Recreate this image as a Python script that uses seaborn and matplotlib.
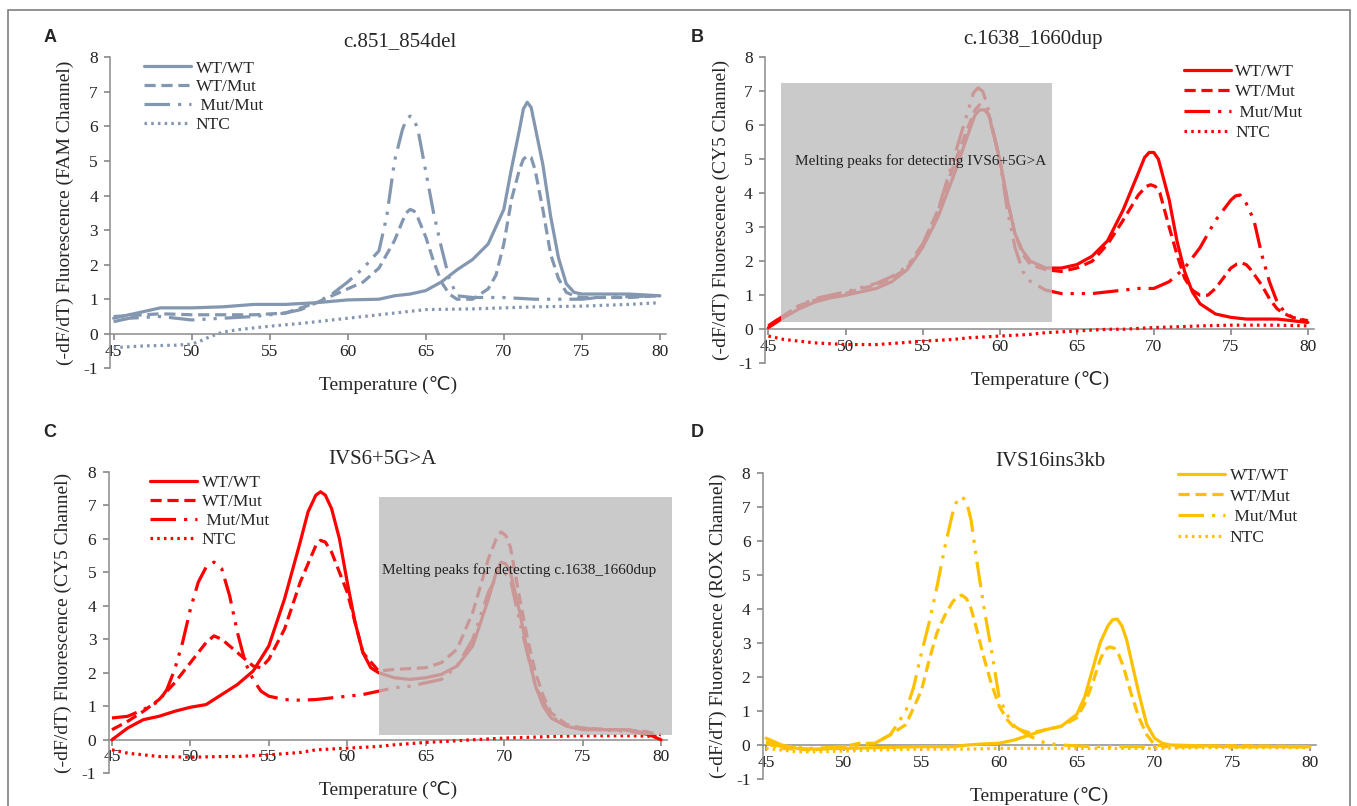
import matplotlib
matplotlib.use("Agg")
import matplotlib.pyplot as plt
from matplotlib.patches import Rectangle
import seaborn as sns
import pandas as pd

GENOTYPES = ["WT/WT", "WT/Mut", " Mut/Mut", "NTC"]
TITLES = ["c.851_854del", "c.1638_1660dup", "IVS6+5G>A", "IVS16ins3kb"]
CHANNELS = ["FAM", "CY5", "CY5", "ROX"]
PANEL_LABELS = ["A", "B", "C", "D"]
X_TICKS = [45, 50, 55, 60, 65, 70, 75, 80]
Y_TICKS = [-1, 0, 1, 2, 3, 4, 5, 6, 7, 8]

# panel A - c.851_854del (FAM)
a_wt_t = [45, 46, 47, 48, 50, 52, 54, 56, 58, 60, 62, 63, 64, 65, 66, 67, 68, 69, 70, 70.5,
          71, 71.25, 71.5, 71.75, 72, 72.5, 73, 73.5, 74, 74.5, 75, 76, 78, 80]
a_wt_y = [0.45, 0.55, 0.65, 0.75, 0.75, 0.78, 0.85, 0.85, 0.9, 0.98, 1.0, 1.1, 1.15, 1.25, 1.5, 1.85, 2.15, 2.6, 3.6, 4.8,
          5.9, 6.5, 6.7, 6.55, 6.0, 4.9, 3.4, 2.2, 1.45, 1.2, 1.15, 1.15, 1.15, 1.1]
a_het_t = [45, 47, 48, 50, 52, 54, 56, 57, 58, 59, 60, 61, 62, 63, 63.5, 63.75, 64, 64.25, 64.5, 65, 65.5, 66,
           66.5, 67, 68, 69, 69.5, 70, 70.5, 71, 71.25, 71.5, 71.75, 72, 72.5, 73, 73.5, 74, 74.5, 75, 76, 78, 80]
a_het_y = [0.5, 0.55, 0.58, 0.55, 0.55, 0.55, 0.6, 0.75, 0.9, 1.1, 1.3, 1.5, 1.9, 2.7, 3.25, 3.5, 3.6, 3.55, 3.35, 2.8,
           2.1, 1.5, 1.15, 1.0, 1.0, 1.3, 1.7, 2.6, 3.9, 4.75, 5.05, 5.15, 5.1, 4.75, 3.6, 2.3, 1.6, 1.2, 1.1, 1.05,
           1.05, 1.05, 1.1]
a_mut_t = [45, 46, 48, 50, 52, 54, 56, 57, 58, 59, 60, 61, 62, 62.5, 63, 63.5, 63.75, 64, 64.25, 64.5, 65, 65.5,
           66, 66.5, 67, 68, 70, 72, 74, 75, 76, 80]
a_mut_y = [0.35, 0.45, 0.5, 0.4, 0.45, 0.5, 0.6, 0.7, 0.9, 1.15, 1.5, 1.9, 2.4, 3.4, 5.0, 5.9, 6.2, 6.3, 6.2, 5.9,
           4.7, 3.5, 2.5, 1.6, 1.1, 1.05, 1.05, 1.0, 1.0, 1.0, 1.05, 1.1]
a_ntc_t = [45, 47, 49, 50, 50.5, 51, 51.5, 52, 53, 55, 57, 60, 63, 65, 68, 70, 72, 75, 78, 80]
a_ntc_y = [-0.4, -0.35, -0.33, -0.3, -0.22, -0.12, -0.03, 0.05, 0.12, 0.22, 0.3, 0.45, 0.6, 0.7, 0.72, 0.75,
           0.78, 0.8, 0.85, 0.9]

# panel B - c.1638_1660dup (CY5)
b_wt_t = [45, 45.5, 46, 47, 48, 49, 50, 51, 52, 53, 54, 55, 56, 57, 58, 58.4, 58.7, 59.0, 59.3, 60, 60.5, 61,
          61.5, 62, 63, 64, 65, 66, 67, 68, 69, 69.4, 69.7, 70.0, 70.3, 71, 71.5, 72, 72.5, 73, 74, 75, 76, 78,
          79, 80]
b_wt_y = [0.05, 0.2, 0.35, 0.6, 0.8, 0.92, 1.0, 1.1, 1.2, 1.4, 1.75, 2.4, 3.3, 4.5, 5.8, 6.3, 6.45, 6.45, 6.3, 5.0,
          3.8, 2.8, 2.3, 2.0, 1.8, 1.8, 1.9, 2.15, 2.6, 3.5, 4.6, 5.05, 5.2, 5.2, 5.0, 3.8, 2.6, 1.7, 1.1, 0.75,
          0.45, 0.35, 0.3, 0.3, 0.25, 0.2]
b_het_t = [45, 45.5, 46, 47, 48, 49, 50, 51, 52, 53, 54, 55, 56, 57, 58, 58.4, 58.7, 59.0, 59.3, 60, 60.5, 61,
           61.5, 62, 63, 64, 65, 66, 67, 68, 69, 69.5, 69.8, 70.1, 70.4, 71, 71.5, 72, 72.5, 73, 73.5, 74, 74.5,
           75, 75.4, 75.7, 76.0, 76.3, 77, 77.5, 78, 78.5, 79, 80]
b_het_y = [0.1, 0.25, 0.4, 0.7, 0.85, 0.98, 1.05, 1.2, 1.3, 1.5, 1.8, 2.5, 3.5, 4.8, 6.0, 6.45, 6.6, 6.55, 6.3, 5.0,
           3.8, 2.8, 2.2, 1.9, 1.75, 1.7, 1.8, 2.0, 2.5, 3.2, 3.95, 4.2, 4.25, 4.2, 4.0, 3.0, 2.2, 1.5, 1.15, 1.0,
           1.0, 1.2, 1.5, 1.8, 1.92, 1.95, 1.9, 1.75, 1.3, 0.9, 0.6, 0.45, 0.35, 0.25]
b_mut_t = [45, 45.5, 46, 47, 48, 50, 52, 53, 54, 55, 56, 57, 58, 58.3, 58.6, 58.9, 59.2, 60, 60.5, 61, 61.5, 62,
           63, 64, 65, 66, 67, 68, 69, 70, 71, 72, 73, 74, 75, 75.3, 75.6, 76, 76.5, 77, 77.5, 78, 78.5, 79, 80]
b_mut_y = [0.1, 0.25, 0.4, 0.7, 0.9, 1.1, 1.35, 1.55, 1.85, 2.5, 3.5, 5.0, 6.5, 6.95, 7.1, 7.0, 6.6, 5.0, 3.5, 2.4,
           1.7, 1.4, 1.15, 1.05, 1.05, 1.05, 1.1, 1.15, 1.2, 1.2, 1.4, 1.8, 2.4, 3.2, 3.8, 3.92, 3.95, 3.7, 3.2,
           2.2, 1.4, 0.8, 0.5, 0.35, 0.2]
b_ntc_t = [45, 46, 47, 48, 50, 52, 53, 55, 57, 58, 60, 62, 63, 65, 67, 68, 70, 72, 73, 75, 77, 78, 80]
b_ntc_y = [-0.2, -0.3, -0.35, -0.4, -0.45, -0.45, -0.42, -0.35, -0.3, -0.25, -0.2, -0.15, -0.1, -0.05, 0.0, 0.0,
           0.05, 0.08, 0.1, 0.12, 0.12, 0.12, 0.1]

# panel C - IVS6+5G>A (CY5)
c_wt_t = [45, 46, 47, 48, 49, 50, 51, 52, 53, 54, 55, 56, 57, 57.5, 58.0, 58.3, 58.6, 59, 59.5, 60, 60.5, 61,
          61.5, 62, 63, 64, 65, 66, 67, 68, 69, 69.5, 69.8, 70.1, 70.4, 71, 71.5, 72, 72.5, 73, 74, 75, 76, 78,
          79, 80]
c_wt_y = [0.0, 0.35, 0.6, 0.7, 0.85, 0.97, 1.05, 1.35, 1.65, 2.05, 2.8, 4.2, 5.9, 6.8, 7.3, 7.4, 7.3, 6.9, 6.0, 4.7,
          3.5, 2.6, 2.15, 2.0, 1.85, 1.8, 1.85, 1.95, 2.2, 2.8, 4.2, 5.0, 5.3, 5.25, 5.0, 3.8, 2.6, 1.6, 1.0, 0.65,
          0.4, 0.3, 0.3, 0.3, 0.2, 0.0]
c_het_t = [45, 46, 47, 48, 49, 50, 51, 51.5, 52, 53, 54, 54.5, 55, 56, 57, 58, 58.3, 58.6, 59, 60, 60.5,
           61, 62, 63, 65, 66, 67, 68, 69, 69.5, 69.8, 70.1, 70.4, 71, 71.5, 72, 72.5, 73, 74, 75, 77, 79, 80]
c_het_y = [0.3, 0.55, 0.85, 1.2, 1.7, 2.3, 2.9, 3.1, 3.0, 2.6, 2.2, 2.15, 2.4, 3.3, 4.7, 5.8, 5.95, 5.9, 5.6, 4.4,
           3.5, 2.6, 2.05, 2.1, 2.15, 2.3, 2.7, 3.8, 5.4, 6.0, 6.2, 6.1, 5.75, 4.2, 3.0, 2.0, 1.3, 0.8, 0.45, 0.35,
           0.3, 0.25, 0.15]
c_mut_t = [45, 46, 47, 48, 48.5, 49, 49.5, 50, 50.5, 51, 51.5, 52, 52.5, 53, 53.5, 54, 54.5, 55, 56, 57,
           58, 59, 60, 61, 62, 63, 64, 66, 67, 68, 69, 69.8, 70.4, 71, 72, 73, 74, 76, 78, 80]
c_mut_y = [0.65, 0.7, 0.9, 1.15, 1.5, 2.1, 2.9, 3.9, 4.7, 5.15, 5.3, 5.1, 4.3, 3.2, 2.3, 1.8, 1.45, 1.3, 1.2, 1.18,
           1.2, 1.25, 1.3, 1.35, 1.45, 1.55, 1.6, 1.8, 2.2, 3.0, 4.4, 5.1, 4.8, 3.5, 1.6, 0.7, 0.4, 0.3, 0.25, 0.1]
c_ntc_t = [45, 46, 47, 48, 50, 52, 53, 55, 57, 58, 60, 62, 63, 65, 67, 68, 70, 72, 73, 75, 77, 78, 80]
c_ntc_y = [-0.3, -0.4, -0.45, -0.5, -0.52, -0.5, -0.5, -0.45, -0.38, -0.3, -0.25, -0.2, -0.15, -0.08, -0.03, 0.0,
           0.05, 0.08, 0.1, 0.12, 0.12, 0.12, 0.1]

# panel D - IVS16ins3kb (ROX)
d_wt_t = [45, 45.5, 46, 47, 48, 50, 52, 55, 57, 58, 59, 60, 61, 62, 63, 64, 65, 65.5, 66, 66.5,
          67, 67.3, 67.6, 67.9, 68.2, 68.5, 69, 69.5, 70, 70.5, 71, 75, 80]
d_wt_y = [0.2, 0.1, 0.0, -0.1, -0.12, -0.1, -0.08, -0.05, -0.05, 0.0, 0.03, 0.05, 0.15, 0.3, 0.45, 0.55, 0.9, 1.4,
          2.2, 3.0, 3.5, 3.68, 3.7, 3.5, 3.1, 2.5, 1.5, 0.6, 0.2, 0.05, 0.0, -0.05, -0.05]
d_het_t = [45, 46, 48, 50, 51, 52, 53, 54, 55, 55.5, 56, 56.5, 57, 57.3, 57.6, 57.9, 58.2, 58.5, 59, 59.5, 60, 60.5,
           61, 62, 63, 64, 65, 65.5, 66, 66.5, 66.8, 67.1, 67.4, 67.7, 68, 68.5, 69, 69.5, 70, 71, 75, 80]
d_het_y = [0.05, -0.1, -0.15, -0.05, 0.05, 0.05, 0.3, 0.6, 1.6, 2.5, 3.3, 3.8, 4.2, 4.35, 4.4, 4.3, 4.0, 3.5, 2.6,
           1.8, 1.15, 0.75, 0.5, 0.35, 0.45, 0.55, 0.8, 1.2, 1.8, 2.5, 2.8, 2.88, 2.85, 2.65, 2.3, 1.5, 0.8, 0.3,
           0.0, -0.05, -0.02, -0.05]
d_mut_t = [45, 46, 48, 50, 51, 52, 53, 54, 54.5, 55, 55.5, 56, 56.5, 57, 57.3, 57.6, 57.9, 58.2, 58.5, 59, 59.5,
           60, 60.5, 61, 62, 63, 64, 66, 70, 75, 80]
d_mut_y = [0.1, -0.05, -0.1, -0.05, 0.0, 0.05, 0.3, 1.0, 1.7, 2.7, 3.6, 4.65, 5.8, 6.8, 7.2, 7.3, 7.15, 6.6, 5.6,
           4.1, 2.8, 1.4, 0.9, 0.55, 0.25, 0.05, 0.0, -0.05, -0.05, -0.05, -0.05]
d_ntc_t = [45, 46, 47, 48, 50, 52, 55, 58, 60, 63, 65, 68, 70, 73, 75, 78, 80]
d_ntc_y = [-0.1, -0.15, -0.2, -0.2, -0.18, -0.15, -0.12, -0.12, -0.1, -0.1, -0.1, -0.1, -0.1, -0.08, -0.08,
           -0.08, -0.08]

PANEL_SERIES = [
    [(a_wt_t, a_wt_y), (a_het_t, a_het_y), (a_mut_t, a_mut_y), (a_ntc_t, a_ntc_y)],
    [(b_wt_t, b_wt_y), (b_het_t, b_het_y), (b_mut_t, b_mut_y), (b_ntc_t, b_ntc_y)],
    [(c_wt_t, c_wt_y), (c_het_t, c_het_y), (c_mut_t, c_mut_y), (c_ntc_t, c_ntc_y)],
    [(d_wt_t, d_wt_y), (d_het_t, d_het_y), (d_mut_t, d_mut_y), (d_ntc_t, d_ntc_y)],
]
COLORS = ["#8497B0", "#FF0000", "#FF0000", "#FFC000"]
LINESTYLES = ["-", (0, (3.5, 1.8)), (0, (8, 2.5, 1, 2.5, 1, 2.5)), (0, (0.8, 1.3))]

# axes rectangles (figure fractions) and layout tweaks
AX_POS = [[0.0814, 0.543, 0.4095, 0.3859],
          [0.564, 0.5493, 0.4044, 0.3797],
          [0.0802, 0.0406, 0.4115, 0.3742],
          [0.5622, 0.0335, 0.4077, 0.380]]
TITLE_XY = [(0.52, 1.052), (0.487, 1.059), (0.489, 1.04), (0.52, 1.036)]
LEGEND_XY = [(0.061, 0.99), (0.763, 0.979), (0.0745, 0.988), (0.751, 1.017)]
LEGEND_SPACING = [0.15, 0.25, 0.15, 0.27]
LABEL_XY = [(0.037, 0.954), (0.514, 0.954), (0.037, 0.463), (0.514, 0.464)]

sns.set_theme(style="white")
plt.rcParams["font.family"] = ["Liberation Serif", "DejaVu Sans"]
plt.rcParams["axes.unicode_minus"] = False

fig = plt.figure(figsize=(13.57, 8.06), dpi=100)
fig.add_artist(Rectangle((0.006, -0.01), 0.989, 0.9976, transform=fig.transFigure,
                         fill=False, edgecolor="#7f7f7f", lw=1.2))

for i in range(4):
    ax = fig.add_axes(AX_POS[i])
    for (t, y), name, ls in zip(PANEL_SERIES[i], GENOTYPES, LINESTYLES):
        df = pd.DataFrame({"temp": t, "val": y})
        sns.lineplot(data=df, x="temp", y="val", ax=ax, color=COLORS[i], lw=2.3,
                     linestyle=ls, label=name, sort=False, zorder=3,
                     solid_joinstyle="round", dash_joinstyle="round")
    ax.set_xlim(44.8, 80.4)
    ax.set_ylim(-1, 8)
    ax.set_xticks(X_TICKS)
    ax.set_yticks(Y_TICKS)
    for s in ["top", "right"]:
        ax.spines[s].set_visible(False)
    ax.spines["bottom"].set_position(("data", 0))
    ax.spines["left"].set_color("#8c8c8c")
    ax.spines["bottom"].set_color("#8c8c8c")
    ax.spines["left"].set_linewidth(1.1)
    ax.spines["bottom"].set_linewidth(1.1)
    ax.tick_params(axis="both", direction="out", length=4, color="#8c8c8c", labelsize=12.5,
                   labelcolor="#222222")
    ax.tick_params(axis="x", pad=3, bottom=True)
    ax.tick_params(axis="y", pad=5, left=True)
    ax.set_xlabel("Temperature (\u2103)", fontsize=14)
    ax.xaxis.label.set_va("center")
    ax.xaxis.set_label_coords(0.5, -0.055)
    ax.set_ylabel(f"(-dF/dT) Fluorescence ({CHANNELS[i]} Channel)", fontsize=14)
    ax.yaxis.label.set_va("center")
    ax.yaxis.set_label_coords(-0.081, 0.5)
    ax.text(TITLE_XY[i][0], TITLE_XY[i][1], TITLES[i], transform=ax.transAxes,
            ha="center", va="center", fontsize=15)
    ax.legend(loc="upper left", bbox_to_anchor=LEGEND_XY[i], frameon=False, fontsize=12.5,
              handlelength=2.7, handletextpad=0.25, labelspacing=LEGEND_SPACING[i], borderpad=0,
              borderaxespad=0)
    fig.text(LABEL_XY[i][0], LABEL_XY[i][1], PANEL_LABELS[i], family="Liberation Sans",
             fontweight="bold", fontsize=13, ha="center", va="center")

    if i == 1:
        ax.add_patch(Rectangle((45.8, 0.2), 63.4 - 45.8, 7.25 - 0.2, facecolor="#BDBDBD",
                               alpha=0.8, edgecolor="none", zorder=5))
        ax.text(46.7, 4.95, "Melting peaks for detecting IVS6+5G>A", fontsize=11,
                va="center", ha="left", zorder=6, color="#222222")
    if i == 2:
        ax.add_patch(Rectangle((62.05, 0.13), 80.7 - 62.05, 7.25 - 0.13, facecolor="#BDBDBD",
                               alpha=0.8, edgecolor="none", zorder=5, clip_on=False))
        ax.text(62.2, 5.05, "Melting peaks for detecting c.1638_1660dup", fontsize=11,
                va="center", ha="left", zorder=6, color="#222222", clip_on=False)

fig.savefig("out.png", dpi=100)
